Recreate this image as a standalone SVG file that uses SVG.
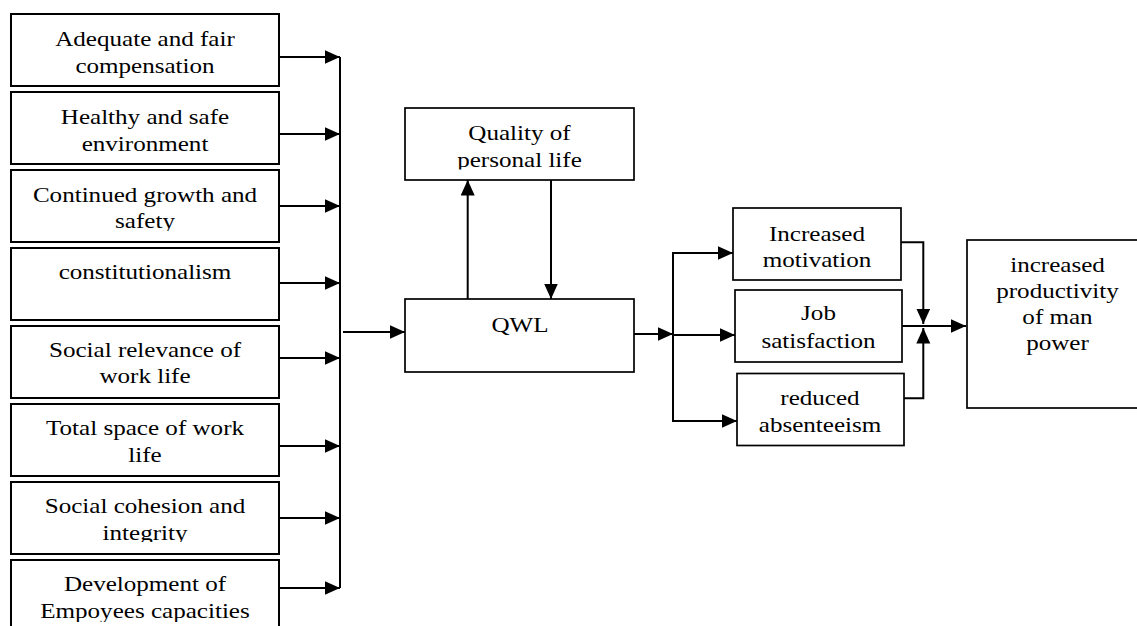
<svg xmlns="http://www.w3.org/2000/svg" width="1137" height="626" viewBox="0 0 1137 626">
<style>
.box{fill:#fff;stroke:#000;stroke-width:2}
.box2{fill:#fff;stroke:#000;stroke-width:1.7}
.t{font-family:"Liberation Serif","Times New Roman",serif;font-size:22px;fill:#000;text-anchor:middle}
.c{fill:none;stroke:#000;stroke-width:2}
</style>
<defs>
<marker id="ah" markerUnits="userSpaceOnUse" markerWidth="17" markerHeight="15" refX="15.5" refY="7" orient="auto">
<path d="M0,0 L15.5,7 L0,14 z" fill="#000"/>
</marker>
<clipPath id="cl3"><rect x="11" y="170" width="268" height="61"/></clipPath>
<clipPath id="cl7"><rect x="11" y="482" width="268" height="60"/></clipPath>
<clipPath id="cl8"><rect x="11" y="560" width="268" height="62"/></clipPath>
<clipPath id="clq"><rect x="405" y="108" width="229" height="61.5"/></clipPath>
</defs>
<rect width="1137" height="626" fill="#fff"/>

<g id="n1"><rect class="box" x="11" y="14" width="268" height="72"/>
<text class="t" transform="matrix(1.14 0 0 1 145 0)"><tspan x="0" y="45.7">Adequate and fair</tspan><tspan x="0" y="73">compensation</tspan></text></g>
<g id="n2"><rect class="box" x="11" y="92" width="268" height="72"/>
<text class="t" transform="matrix(1.14 0 0 1 145 0)"><tspan x="0" y="124.5">Healthy and safe</tspan><tspan x="0" y="151">environment</tspan></text></g>
<g id="n3"><rect class="box" x="11" y="170" width="268" height="72"/>
<g clip-path="url(#cl3)"><text class="t" transform="matrix(1.14 0 0 1 145 0)"><tspan x="0" y="201.7">Continued growth and</tspan><tspan x="0" y="228.5">safety</tspan></text></g></g>
<g id="n4"><rect class="box" x="11" y="248" width="268" height="72"/>
<text class="t" transform="matrix(1.14 0 0 1 145 0)"><tspan x="0" y="279">constitutionalism</tspan></text></g>
<g id="n5"><rect class="box" x="11" y="326" width="268" height="72"/>
<text class="t" transform="matrix(1.14 0 0 1 145 0)"><tspan x="0" y="357">Social relevance of</tspan><tspan x="0" y="383.5">work life</tspan></text></g>
<g id="n6"><rect class="box" x="11" y="404" width="268" height="72"/>
<text class="t" transform="matrix(1.14 0 0 1 145 0)"><tspan x="0" y="435.5">Total space of work</tspan><tspan x="0" y="462">life</tspan></text></g>
<g id="n7"><rect class="box" x="11" y="482" width="268" height="72"/>
<g clip-path="url(#cl7)"><text class="t" transform="matrix(1.14 0 0 1 145 0)"><tspan x="0" y="513.5">Social cohesion and</tspan><tspan x="0" y="540">integrity</tspan></text></g></g>
<g id="n8"><rect class="box" x="11" y="560" width="268" height="72"/>
<g clip-path="url(#cl8)"><text class="t" transform="matrix(1.14 0 0 1 145 0)"><tspan x="0" y="591">Development of</tspan><tspan x="0" y="618">Empoyees capacities</tspan></text></g></g>

<g id="quality"><rect class="box2" x="405" y="108" width="229" height="72"/>
<g clip-path="url(#clq)"><text class="t" transform="matrix(1.14 0 0 1 519.5 0)"><tspan x="0" y="140">Quality of</tspan><tspan x="0" y="166.7">personal life</tspan></text></g></g>
<g id="qwl"><rect class="box2" x="405" y="299" width="229" height="73"/>
<text class="t" transform="matrix(1.14 0 0 1 520 0)"><tspan x="0" y="332.5">QWL</tspan></text></g>

<g id="motivation"><rect class="box2" x="733" y="208" width="168" height="72"/>
<text class="t" transform="matrix(1.14 0 0 1 817 0)"><tspan x="0" y="240.7">Increased</tspan><tspan x="0" y="266.7">motivation</tspan></text></g>
<g id="satisfaction"><rect class="box2" x="735" y="290" width="167" height="72"/>
<text class="t" transform="matrix(1.14 0 0 1 818.5 0)"><tspan x="0" y="320">Job</tspan><tspan x="0" y="348">satisfaction</tspan></text></g>
<g id="absenteeism"><rect class="box2" x="737" y="373.5" width="167" height="72"/>
<text class="t" transform="matrix(1.14 0 0 1 820 0)"><tspan x="0" y="405">reduced</tspan><tspan x="0" y="431.7">absenteeism</tspan></text></g>
<g id="productivity"><rect class="box2" x="967" y="240" width="185" height="168"/>
<text class="t" transform="matrix(1.14 0 0 1 1057.5 0)"><tspan x="0" y="271.7">increased</tspan><tspan x="0" y="298.5">productivity</tspan><tspan x="0" y="324.5">of man</tspan><tspan x="0" y="350">power</tspan></text></g>

<g id="connectors">
<line class="c" x1="340" y1="57" x2="340" y2="588"/>
<line class="c" x1="279" y1="57" x2="340" y2="57" marker-end="url(#ah)"/>
<line class="c" x1="279" y1="134" x2="340" y2="134" marker-end="url(#ah)"/>
<line class="c" x1="279" y1="206" x2="340" y2="206" marker-end="url(#ah)"/>
<line class="c" x1="279" y1="283" x2="340" y2="283" marker-end="url(#ah)"/>
<line class="c" x1="279" y1="358" x2="340" y2="358" marker-end="url(#ah)"/>
<line class="c" x1="279" y1="446" x2="340" y2="446" marker-end="url(#ah)"/>
<line class="c" x1="279" y1="518" x2="340" y2="518" marker-end="url(#ah)"/>
<line class="c" x1="279" y1="588" x2="340" y2="588" marker-end="url(#ah)"/>
<line class="c" x1="343" y1="332" x2="405" y2="332" marker-end="url(#ah)"/>
<line class="c" x1="467.7" y1="299" x2="467.7" y2="180" marker-end="url(#ah)"/>
<line class="c" x1="551" y1="180" x2="551" y2="299" marker-end="url(#ah)"/>
<line class="c" x1="634" y1="334" x2="673" y2="334" marker-end="url(#ah)"/>
<line class="c" x1="673" y1="253" x2="673" y2="421"/>
<line class="c" x1="672" y1="253" x2="733" y2="253" marker-end="url(#ah)"/>
<line class="c" x1="673" y1="335" x2="735" y2="335" marker-end="url(#ah)"/>
<line class="c" x1="672" y1="421" x2="737" y2="421" marker-end="url(#ah)"/>
<polyline class="c" points="901,242.3 923.3,242.3 923.3,324" marker-end="url(#ah)"/>
<polyline class="c" points="904,398.3 923.3,398.3 923.3,328" marker-end="url(#ah)"/>
<line class="c" x1="902" y1="326" x2="966" y2="326" marker-end="url(#ah)"/>
</g>
</svg>
